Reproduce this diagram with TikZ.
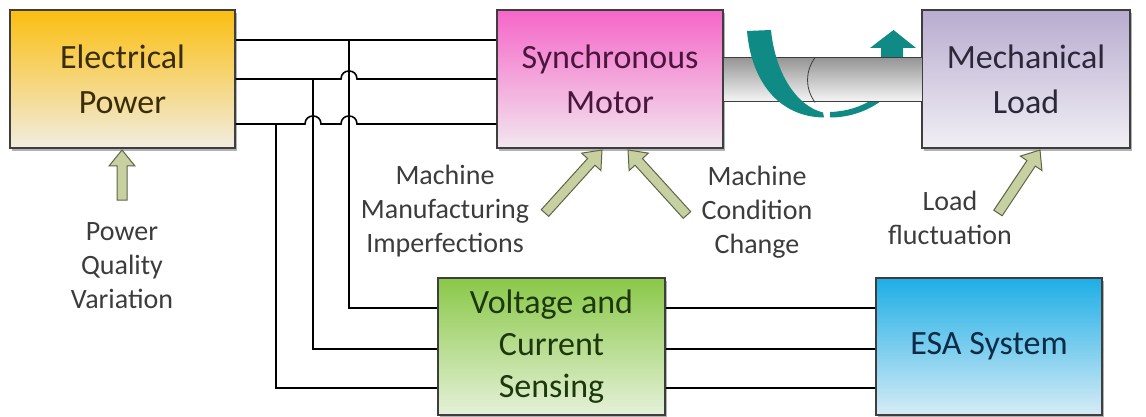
\documentclass[tikz,border=0pt]{standalone}
\usepackage{fontspec}
\setmainfont{Carlito}
\usetikzlibrary{calc,shadows}

% palette
\definecolor{edge}{RGB}{62,62,62}
\definecolor{epTop}{RGB}{251,190,16}
\definecolor{epBot}{RGB}{241,237,224}
\definecolor{epText}{RGB}{58,44,6}
\definecolor{smTop}{RGB}{245,102,200}
\definecolor{smBot}{RGB}{242,231,239}
\definecolor{smText}{RGB}{74,22,62}
\definecolor{mlTop}{RGB}{184,172,208}
\definecolor{mlBot}{RGB}{241,239,244}
\definecolor{mlText}{RGB}{44,40,58}
\definecolor{vcTop}{RGB}{138,200,72}
\definecolor{vcBot}{RGB}{229,241,216}
\definecolor{vcText}{RGB}{28,56,12}
\definecolor{esaTop}{RGB}{30,174,230}
\definecolor{esaBot}{RGB}{214,236,246}
\definecolor{esaText}{RGB}{10,44,70}
\definecolor{noteGray}{RGB}{60,60,60}
\definecolor{olivefill}{RGB}{198,208,160}
\definecolor{oliveedge}{RGB}{96,100,74}
\definecolor{spinc}{RGB}{16,138,132}
\definecolor{shaftTop}{RGB}{150,150,150}
\definecolor{shaftBot}{RGB}{246,246,246}

\newcommand\boxfont{\fontsize{34}{45}\selectfont}
\newcommand\notefont{\fontsize{28}{34}\selectfont}

% block arrow from tail #1 to tip #2
\newcommand\fatarrow[2]{%
  \coordinate (fah) at ($(#2)!16pt!(#1)$);
  \path[fat] ($(#1)!5pt!90:(#2)$) -- ($(fah)!5pt!-90:(#1)$) -- ($(fah)!13pt!-90:(#1)$)
    -- (#2) -- ($(fah)!13pt!90:(#1)$) -- ($(fah)!5pt!90:(#1)$) -- ($(#1)!5pt!-90:(#2)$) -- cycle;}

\begin{document}
\begin{tikzpicture}[x=1pt,y=-1pt,
  block/.style={draw=edge, line width=1.3pt, minimum height=138pt, inner sep=0pt,
    align=center, font=\boxfont,
    drop shadow={shadow xshift=2pt, shadow yshift=-3pt, opacity=.3, fill=black}},
  wire/.style={draw=black, line width=1.6pt},
  note/.style={align=center, font=\notefont, text=noteGray, inner sep=0pt},
  fat/.style={fill=olivefill, draw=oliveedge, line width=1pt, line join=miter},
  spin/.style={fill=spinc}
]
\useasboundingbox (0,0) rectangle (1146,417);

% wire levels and tap columns
\coordinate (ya) at (0,40);
\coordinate (yb) at (0,79);
\coordinate (yc) at (0,124);
\coordinate (yd) at (0,308);
\coordinate (ye) at (0,349);
\coordinate (yf) at (0,388);
\coordinate (xa) at (276,0);
\coordinate (xb) at (313,0);
\coordinate (xc) at (349,0);

% blocks
\node[block, minimum width=225pt, top color=epTop, bottom color=epBot, text=epText] (ep) at (122.5,79) {Electrical\\Power};
\node[block, minimum width=226pt, top color=smTop, bottom color=smBot, text=smText] (sm) at (610,79) {Synchronous\\Motor};
\node[block, minimum width=208pt, top color=mlTop, bottom color=mlBot, text=mlText] (ml) at (1026,79) {Mechanical\\Load};
\node[block, minimum width=227pt, minimum height=137pt, top color=vcTop, bottom color=vcBot, text=vcText,
  font=\fontsize{34}{42}\selectfont] (vc) at (551.5,346.5) {Voltage and\\Current\\Sensing};
\node[block, minimum width=226pt, minimum height=137pt, top color=esaTop, bottom color=esaBot, text=esaText] (esa) at (989,346.5) {ESA System};

% supply lines to the motor, hopping over the sensing taps
\draw[wire] (ep.east|-ya) -- (sm.west|-ya);
\draw[wire] (ep.east|-yb) -- ($(xc|-yb)+(-8,0)$) .. controls +(0,-10.7) and +(0,-10.7) .. ($(xc|-yb)+(8,0)$) -- (sm.west|-yb);
\draw[wire] (ep.east|-yc) -- ($(xb|-yc)+(-8,0)$) .. controls +(0,-10.7) and +(0,-10.7) .. ($(xb|-yc)+(8,0)$)
  -- ($(xc|-yc)+(-8,0)$) .. controls +(0,-10.7) and +(0,-10.7) .. ($(xc|-yc)+(8,0)$) -- (sm.west|-yc);

% sensing taps
\draw[wire] (xc|-ya) -- (xc|-yd) -- (vc.west|-yd);
\draw[wire] (xb|-yb) -- (xb|-ye) -- (vc.west|-ye);
\draw[wire] (xa|-yc) -- (xa|-yf) -- (vc.west|-yf);

% sensing to ESA
\draw[wire] (vc.east|-yd) -- (esa.west|-yd);
\draw[wire] (vc.east|-ye) -- (esa.west|-ye);
\draw[wire] (vc.east|-yf) -- (esa.west|-yf);

% rotation arrow: rear part, then shaft, then front part
\path[spin] (830,117.5) .. controls (848,117.5) and (866,112) .. (881,101) -- (873,99) .. controls (861,107) and (846,111.5) .. (830,112) -- cycle;
\path[spin] (881,60) -- (881,48) -- (870,48) -- (893.5,30) -- (916,48) -- (903,48) -- (903,60) -- cycle;
\node[draw=edge, line width=1pt, minimum width=199pt, minimum height=44pt, inner sep=0pt,
  top color=shaftTop, bottom color=shaftBot] (sh) at (822.5,80) {};
\draw[edge, line width=0.8pt] (sh.north-|815,0) .. controls (805,72) and (805,88) .. (sh.south-|815,0);
\path[spin] (747,31) .. controls (751,80) and (778,117) .. (824,117.5) -- (823,112.5)
  .. controls (796,106) and (775,72) .. (771,30) -- cycle;

% influence labels
\node[note] (pq) at (122,266) {Power\\Quality\\Variation};
\node[note] (mmi) at (445,211) {Machine\\Manufacturing\\Imperfections};
\node[note] (mcc) at (757,212) {Machine\\Condition\\Change};
\node[note] (lf) at (950,218) {Load\\fluctuation};

% influence arrows
\coordinate (pqt) at (122,200);
\coordinate (pqh) at (122,150);
\coordinate (mmit) at (545,213);
\coordinate (mmih) at (602,150);
\coordinate (mcct) at (687,215);
\coordinate (mcch) at (628,150);
\coordinate (lft) at (998,213);
\coordinate (lfh) at (1040,150);
\fatarrow{pqt}{pqh}
\fatarrow{mmit}{mmih}
\fatarrow{mcct}{mcch}
\fatarrow{lft}{lfh}
\end{tikzpicture}
\end{document}
